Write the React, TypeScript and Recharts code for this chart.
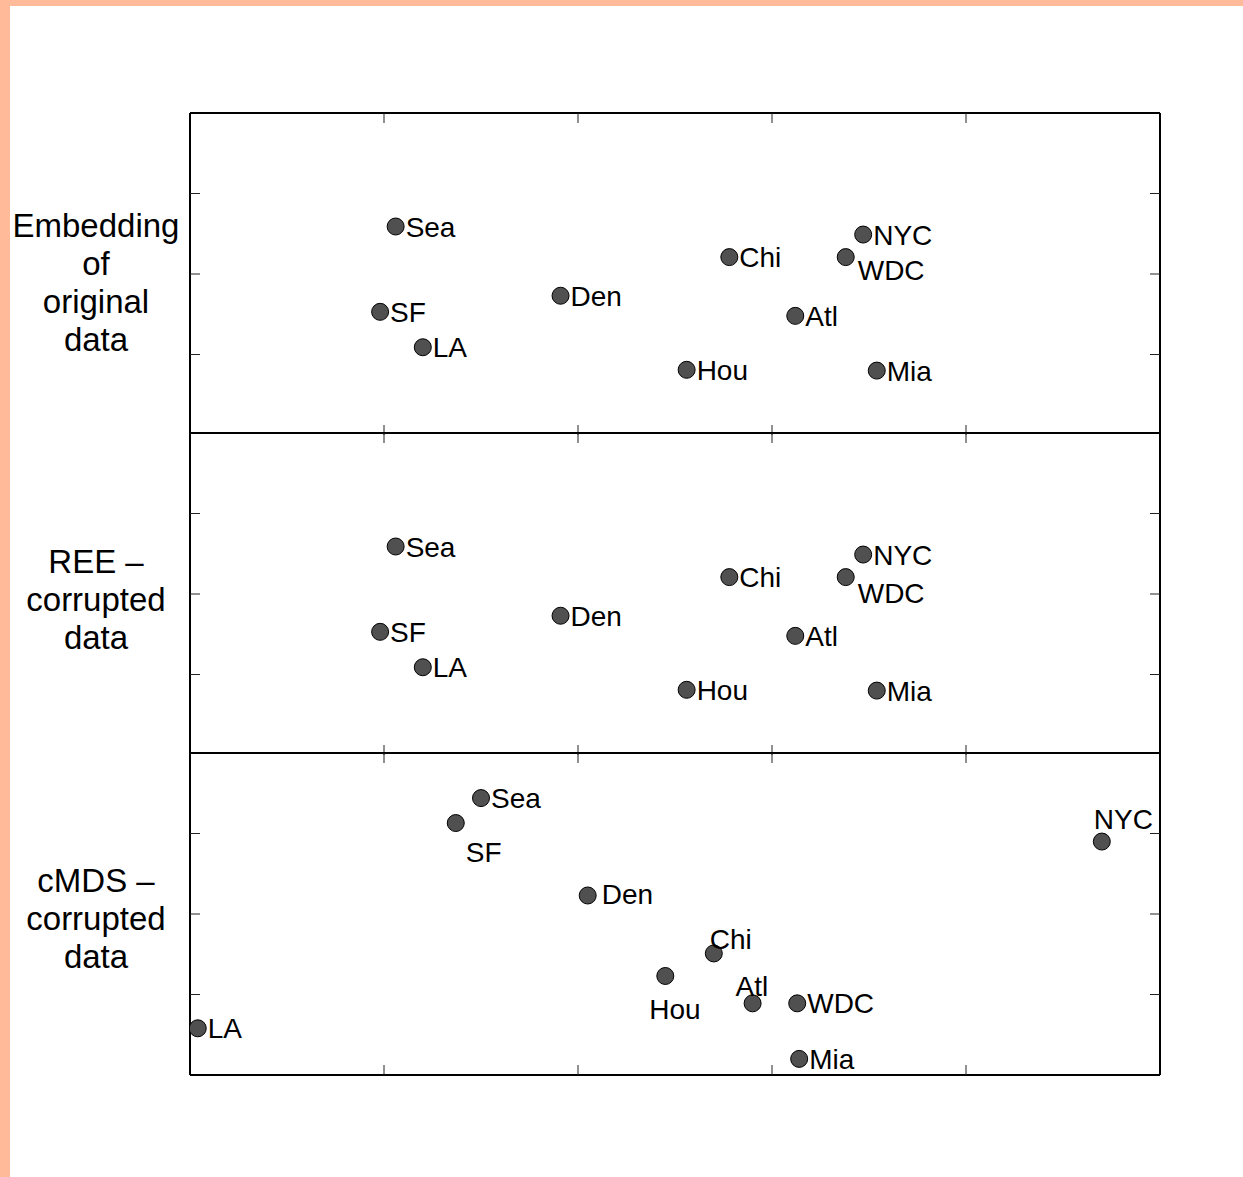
import React from 'react';
import { ScatterChart, Scatter, XAxis, YAxis } from 'recharts';

// city names shared by all three panels
const cities = ['Sea', 'SF', 'LA', 'Den', 'Hou', 'Chi', 'Atl', 'WDC', 'NYC', 'Mia'];

// embedding of original data
const originalX = [1.06, 0.98, 1.2, 1.91, 2.56, 2.78, 3.12, 3.38, 3.47, 3.54];
const originalY = [2.59, 1.53, 1.09, 1.73, 0.81, 2.21, 1.48, 2.21, 2.49, 0.8];

// REE on corrupted data
const reeX = [1.06, 0.98, 1.2, 1.91, 2.56, 2.78, 3.12, 3.38, 3.47, 3.54];
const reeY = [2.59, 1.53, 1.09, 1.73, 0.81, 2.21, 1.48, 2.21, 2.49, 0.8];

// classical MDS on corrupted data
const cmdsX = [1.5, 1.37, 0.04, 2.05, 2.45, 2.7, 2.9, 3.13, 4.7, 3.14];
const cmdsY = [3.44, 3.13, 0.58, 2.23, 1.23, 1.51, 0.89, 0.89, 2.9, 0.2];

const xTicks = [1, 2, 3, 4];
const yTicks = [1, 2, 3];

const panelLabels = [
  ['Embedding', 'of', 'original', 'data'],
  ['REE \u2013', 'corrupted', 'data'],
  ['cMDS \u2013', 'corrupted', 'data'],
];

const FONT = '"Liberation Sans", Arial, Helvetica, sans-serif';

// label offsets (dx, dy of baseline) relative to the marker
const defaultOffset: [number, number] = [10, 10];
const placements: Record<string, [number, number]>[] = [
  { WDC: [12, 23] },
  { WDC: [12, 26] },
  {
    SF: [10, 39],
    NYC: [-8, -13],
    Chi: [-4, -4],
    Hou: [-16, 43],
    Atl: [-17, -7],
    Den: [14, 9],
  },
];

const build = (xs: number[], ys: number[]) =>
  cities.map((name, i) => ({ name, x: xs[i], y: ys[i] }));

const panels = [
  build(originalX, originalY),
  build(reeX, reeY),
  build(cmdsX, cmdsY),
];

const panelTops = [113, 433, 753];

const makeShape = (placement: Record<string, [number, number]>) => (props: any) => {
  const { cx, cy, payload } = props;
  const [dx, dy] = placement[payload.name] ?? defaultOffset;
  return (
    <g>
      <circle cx={cx} cy={cy} r={8.5} fill="#505050" stroke="#000" strokeWidth={1} />
      <text x={cx + dx} y={cy + dy} fontSize={28} fontFamily={FONT} fill="#000">
        {payload.name}
      </text>
    </g>
  );
};

const noLabel = () => <g />;
const noShape = () => <g />;

const frame = { stroke: '#000', strokeWidth: 2 };
const tickStyle = { stroke: '#222', strokeWidth: 1 };

const Panel = ({ data, index }: { data: any[]; index: number }) => {
  const last = index === panels.length - 1;
  return (
    <div style={{ position: 'absolute', left: 0, top: panelTops[index] - 4 }}>
      <ScatterChart
        width={1243}
        height={330}
        margin={{ top: 4, bottom: 4, left: 190, right: 83 }}
      >
        <XAxis
          xAxisId="b"
          dataKey="x"
          type="number"
          domain={[0, 5]}
          allowDataOverflow
          ticks={xTicks}
          orientation="bottom"
          mirror
          height={1}
          tickSize={10}
          tick={noLabel}
          axisLine={last ? frame : false}
          tickLine={tickStyle}
        />
        <XAxis
          xAxisId="t"
          dataKey="x"
          type="number"
          domain={[0, 5]}
          allowDataOverflow
          ticks={xTicks}
          orientation="top"
          mirror
          height={1}
          tickSize={10}
          tick={noLabel}
          axisLine={frame}
          tickLine={tickStyle}
        />
        <YAxis
          yAxisId="l"
          dataKey="y"
          type="number"
          domain={[0, 4]}
          allowDataOverflow
          ticks={yTicks}
          orientation="left"
          mirror
          width={1}
          tickSize={10}
          tick={noLabel}
          axisLine={frame}
          tickLine={tickStyle}
        />
        <YAxis
          yAxisId="r"
          dataKey="y"
          type="number"
          domain={[0, 4]}
          allowDataOverflow
          ticks={yTicks}
          orientation="right"
          mirror
          width={1}
          tickSize={10}
          tick={noLabel}
          axisLine={frame}
          tickLine={tickStyle}
        />
        <Scatter
          data={data}
          xAxisId="t"
          yAxisId="r"
          shape={noShape}
          isAnimationActive={false}
        />
        <Scatter
          data={data}
          xAxisId="b"
          yAxisId="l"
          shape={makeShape(placements[index])}
          isAnimationActive={false}
        />
      </ScatterChart>
    </div>
  );
};

const labelTops = [207, 543, 862];

export default function App() {
  return (
    <div
      style={{
        position: 'absolute',
        left: 0,
        top: 0,
        width: 1243,
        height: 1177,
        background: '#ffbb99',
        overflow: 'hidden',
      }}
    >
      <div
        style={{
          position: 'absolute',
          left: 10,
          top: 6,
          right: 0,
          bottom: 0,
          background: '#fff',
        }}
      />
      {panels.map((data, i) => (
        <Panel key={i} data={data} index={i} />
      ))}
      {panelLabels.map((lines, i) => (
        <div
          key={i}
          style={{
            position: 'absolute',
            left: 0,
            top: labelTops[i],
            width: 192,
            textAlign: 'center',
            fontFamily: FONT,
            fontSize: 33,
            lineHeight: '38px',
            color: '#000',
          }}
        >
          {lines.map((l) => (
            <div key={l}>{l}</div>
          ))}
        </div>
      ))}
    </div>
  );
}
